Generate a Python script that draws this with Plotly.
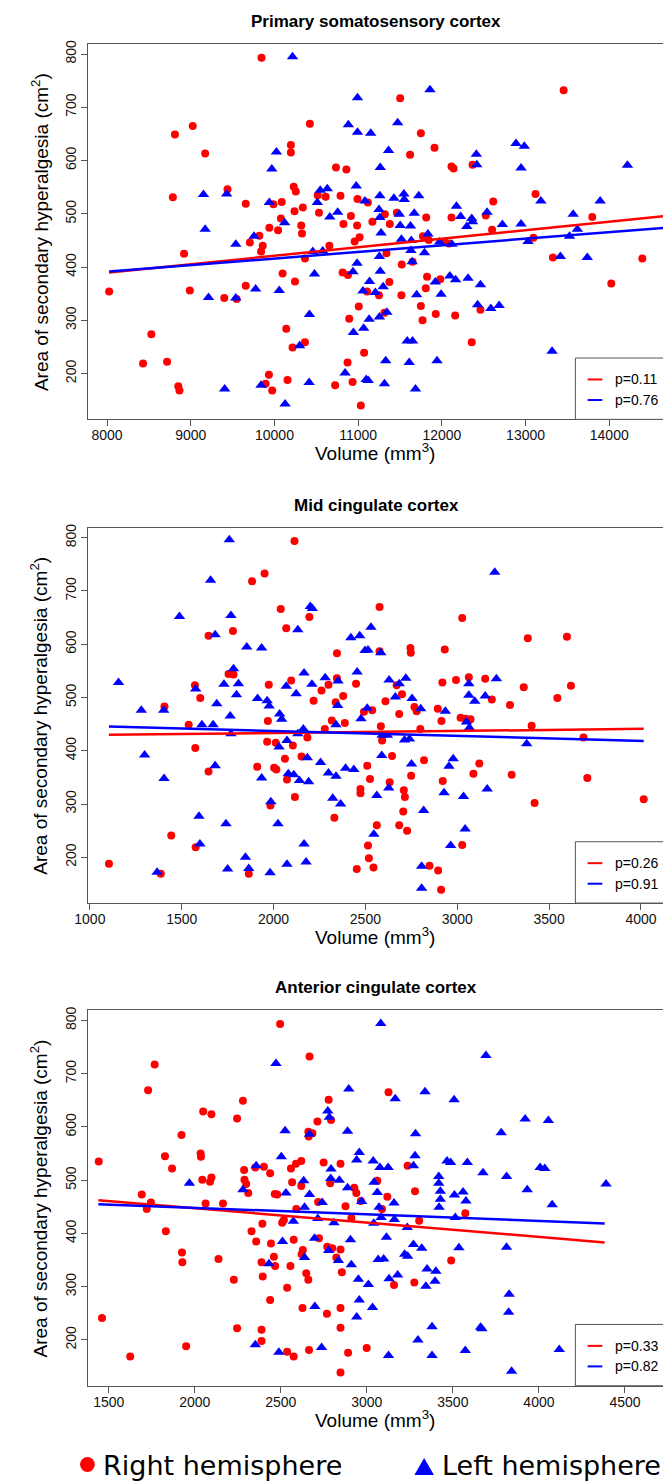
import plotly.graph_objects as go

# ---------------- data ----------------
titles = ["Primary somatosensory cortex", "Mid cingulate cortex", "Anterior cingulate cortex"]
p_right = ["p=0.11", "p=0.26", "p=0.33"]
p_left = ["p=0.76", "p=0.91", "p=0.82"]
y_ticks = [200, 300, 400, 500, 600, 700, 800]
x_ticks_1 = [8000, 9000, 10000, 11000, 12000, 13000, 14000]
x_ticks_2 = [1000, 1500, 2000, 2500, 3000, 3500, 4000]
x_ticks_3 = [1500, 2000, 2500, 3000, 3500, 4000, 4500]
x_range_1 = [7777, 14642]
x_range_2 = [992, 4120]
x_range_3 = [1382, 4721]
y_range = [114, 819]

# Panel 1: primary somatosensory cortex
s1_right = [(9845,793),(8811,649),(9024,665),(9172,613),(10423,669),(10196,629),(10196,615),(11502,717),(11749,651),(11912,624),(11620,611),(13455,732),
 (10735,587),(10859,583),(12115,589),(12140,585),(12367,592),(9439,546),(8786,531),(9657,519),(10230,551),(10255,542),(9988,518),(10087,522),(10517,535),(10532,502),(10611,532),(10789,534),(10992,528),(11116,521),(10339,512),(10240,505),(10913,496),(10077,491),(9939,474),(10043,469),(10987,478),(10824,481),(11170,485),(11319,499),(11378,481),(11462,502),(11813,493),(12115,493),(12525,497),(12614,523),(13119,537),(12600,470),(13797,494),(9820,459),(9706,446),(9860,440),(9840,429),(10320,478),(10329,463),(11017,456),(10958,448),(11774,458),(11843,451),(12031,447),(12085,444),(10656,440),(8920,425),(10364,416),(11338,426),(13327,418),(14395,416),(13094,455),(8025,354),(8989,356),(9400,342),(9548,340),(9657,365),(10097,388),(10245,373),(10814,390),(10878,385),(11373,372),(11517,347),(11521,405),(11650,410),(11106,354),(11249,347),(11314,314),(11007,326),(10893,303),(11749,327),(11769,300),(11823,382),(11808,360),(11981,377),(11927,312),(12159,309),(12461,320),(14024,369),
 (8529,274),(10141,284),(10364,259),(10216,249),(12357,259),(8430,219),(8717,222),(10873,221),(11071,239),(9934,198),(9894,181),(10156,188),(9973,168),(8851,176),(8865,168),(10725,178),(10933,184),(11032,140)]
s1_left = [(10216,795),(10992,718),(11858,733),(10883,667),(10992,653),(11150,651),(11472,671),(11363,619),(10023,616),(12412,612),(12886,632),(12985,627),
 (14217,591),(9968,584),(11264,587),(12417,592),(12946,586),(9152,536),(9429,537),(9172,471),(9538,443),(9756,458),(9939,521),(10122,483),(10547,544),(10631,547),(10512,521),(10661,494),(10755,503),(10977,552),(11081,524),(11259,534),(11249,508),(11259,493),(11274,464),(11427,529),(11546,537),(11551,527),(11724,534),(11492,499),(11502,478),(11625,477),(11670,501),(11517,452),(11635,450),(11833,462),(11630,431),(11645,410),(11793,427),(11972,447),(12120,443),(12174,514),(12224,495),(12357,491),(12298,476),(12367,485),(12540,503),(12723,480),(12946,481),(13030,448),(13183,524),(13569,499),(13619,471),(13525,458),(13891,524),(13416,420),(13737,418),(10458,429),(10577,430),(10478,387),(10987,407),(10938,391),(11254,420),(11264,392),(11136,373),(11057,355),(11205,352),(11299,363),(9212,343),(9538,342),(9775,359),(10057,356),(10418,311),(11699,348),(11922,372),(11991,349),(12095,383),(12164,376),(12313,379),(12461,367),(12427,329),(12585,322),(12684,328),(11343,315),(11131,302),(11254,306),
 (10943,277),(11066,285),(10300,252),(11586,261),(11650,261),(13317,242),(11329,224),(11610,221),(11942,224),(10844,201),(11096,189),(11120,187),(11314,181),(10414,183),(9840,178),(9405,171),(10127,143),(11685,171)]

# Panel 2: mid cingulate cortex
s2_right = [(2114,794),(1951,733),(1883,718),(2039,666),(2069,630),(2195,651),(2577,670),(3027,649),(3384,611),(3597,614),(1646,616),(1779,625),(2345,583),(2577,587),(2745,593),(2747,584),(2932,590),
 (1406,483),(1572,523),(1601,499),(1538,449),(1574,405),(1646,361),(1755,544),(1782,543),(1974,524),(1969,456),(2096,532),(2218,494),(2261,513),(2299,524),(2345,536),(2338,491),(2379,503),(2388,452),(2317,457),(2279,441),(2449,526),(2492,473),(2537,476),(2584,446),(2591,419),(2670,523),(2609,493),(2699,506),(2684,469),(2767,482),(2779,474),(2799,441),(2919,528),(2894,479),(2914,456),(2993,533),(3018,462),(3063,538),(3045,460),(3072,459),(3152,535),(3188,496),(3287,486),(3362,519),(3545,499),(3619,522),(3405,447),(3687,425),(1965,417),(2012,415),(2105,410),(2184,425),(2152,389),(2062,385),(2003,368),(2015,365),(1911,370),(2073,346),(2116,313),(1983,297),(2510,372),(2525,347),(2473,328),(2473,320),(2645,390),(2632,341),(2709,326),(2715,313),(2706,286),(2749,353),(2819,382),(2921,343),(3088,357),(3120,376),(3296,355),(3421,302),(3708,349),(4015,309),(2331,274),
 (1104,188),(1386,169),(1443,241),(1576,219),(1865,169),(2453,178),(2514,222),(2519,198),(2544,181),(2562,260),(2684,260),(2727,250),(2849,184),(2896,175),(2912,139),(3027,223)]
s2_left = [(1759,796),(1657,720),(1488,652),(1768,654),(1682,618),(1854,595),(1935,593),(2132,627),(2200,671),(2211,667),(2421,612),(2469,616),(2530,632),(2498,588),(2514,589),(2584,584),(3204,735),
 (1156,528),(1280,476),(1298,392),(1402,476),(1404,348),(1576,516),(1610,449),(1671,449),(1691,488),(1730,525),(1764,465),(1768,432),(1782,554),(1798,505),(1809,526),(1682,372),(1913,498),(1935,349),(1965,494),(1976,484),(1985,304),(2033,469),(2044,459),(2030,407),(2069,521),(2073,419),(2123,507),(2132,432),(2166,546),(2162,441),(2184,387),(2209,525),(2256,378),(2281,537),(2299,358),(2340,352),(2322,311),(2365,300),(2351,531),(2349,485),(2340,449),(2392,367),(2437,365),(2455,548),(2476,460),(2510,480),(2562,316),(2589,391),(2591,429),(2620,429),(2627,330),(2629,533),(2663,501),(2684,526),(2720,536),(2713,420),(2740,422),(2751,375),(2754,498),(2801,479),(2817,288),(2928,321),(2935,474),(2955,371),(2978,385),(3034,314),(3063,526),(3063,504),(3050,454),(3066,443),(3095,493),(3152,503),(3163,328),(3213,535),(3378,413),(2110,355),(2141,344),(2191,342),(2080,357),(1594,277),
 (1366,172),(1599,225),(1741,263),(1750,178),(1847,200),(1865,179),(1981,171),(2024,263),(2073,187),(2166,225),(2177,191),(2546,243),(2806,183),(2806,142),(2964,222),(3043,253)]

# Panel 3: anterior cingulate cortex
s3_right = [(2496,793),(1767,717),(1729,669),(2667,732),(2280,649),(2049,629),(2097,624),(2246,616),(1923,585),(2778,651),(2713,610),(2792,613),(3126,665),(2660,591),(2684,588),(2662,582),
 (1442,535),(1692,473),(1721,446),(1745,458),(1827,545),(1868,522),(1832,404),(1926,364),(1928,346),(2034,550),(2036,544),(2044,501),(2063,456),(2089,497),(2097,505),(2138,352),(2164,456),(2227,313),(2287,519),(2289,501),(2299,493),(2311,476),(2330,404),(2357,385),(2352,524),(2402,525),(2438,513),(2388,346),(2395,319),(2393,418),(2443,381),(2465,474),(2479,473),(2460,356),(2467,339),(2438,275),(2508,420),(2518,425),(2537,298),(2559,522),(2588,531),(2619,536),(2566,496),(2619,489),(2590,446),(2575,388),(2556,339),(2628,369),(2621,361),(2648,325),(2660,313),(2717,459),(2722,391),(2749,533),(2787,494),(2770,375),(2799,372),(2847,531),(2847,370),(2855,327),(2823,355),(2876,451),(2910,429),(2927,486),(2939,476),(2965,461),(3061,499),(3088,446),(3119,469),(3158,303),(3237,527),(3276,308),(3280,479),(3304,424),(3490,349),(3572,438),
 (1461,241),(1625,169),(1950,188),(2246,222),(2388,219),(2388,198),(2537,178),(2575,169),(2626,260),(2768,249),(2847,260),(2847,223),(2891,176),(2999,185),(2664,181),(2847,139)]
s3_left = [(3081,794),(2472,719),(3692,734),(2895,671),(3165,653),(3338,666),(3507,651),(2773,630),(2782,618),(2525,593),(2888,592),(3283,587),(3781,589),(3920,615),(4055,612),(2667,586),
 (1969,494),(2280,482),(2357,527),(2431,343),(2503,544),(2510,385),(2530,476),(2573,423),(2633,499),(2638,449),(2667,473),(2696,391),(2638,355),(2715,428),(2741,458),(2792,521),(2790,503),(2809,420),(2840,500),(2835,349),(2778,368),(2888,486),(2905,388),(2910,341),(2951,314),(2956,552),(2941,538),(2970,460),(3009,304),(3037,536),(3042,496),(3040,419),(3061,477),(3071,449),(3076,524),(3066,351),(3098,352),(3083,430),(3114,393),(3124,524),(3158,457),(3160,426),(3129,315),(3179,322),(3235,411),(3220,361),(3237,357),(3271,379),(3280,546),(3271,527),(3319,372),(3350,333),(3401,329),(3396,310),(3343,301),(3418,507),(3418,494),(3427,479),(3427,464),(3420,449),(3466,536),(3487,533),(3509,472),(3514,430),(3535,373),(3559,478),(3576,461),(3584,533),(3675,514),(3812,507),(3812,374),(3827,286),(3932,482),(4007,524),(4034,522),(4077,454),(4390,493),
 (2352,191),(2489,177),(2698,263),(2737,186),(2941,243),(2956,275),(3033,261),(3126,171),(3297,200),(3379,225),(3379,171),(3572,180),(3661,224),(3668,221),(3824,252),(3841,141),(4118,182)]

# fitted regression lines (x endpoints, y endpoints)
fit_right = [([8025, 14800], [389.6, 498.0]), ([1104, 4015], [429.8, 441.1]), ([1440, 4382], [462.5, 383.1])]
fit_left = [([8025, 14800], [391.5, 475.5]), ([1104, 4015], [445.5, 418.5]), ([1440, 4382], [455.0, 418.7])]

right_pts = [s1_right, s2_right, s3_right]
left_pts = [s1_left, s2_left, s3_left]
x_ticks = [x_ticks_1, x_ticks_2, x_ticks_3]
x_ranges = [x_range_1, x_range_2, x_range_3]

# ---------------- layout ----------------
W, H = 663, 1481
RED, BLUE = "#FF0000", "#0000FF"
FRAME = "#555555"
FONT = "Liberation Sans, Arial, Helvetica, sans-serif"
LEFT_PX = 76
TOPS = [40, 525, 1009]
PLOT_H = 376.5


def px(x):
    return x / W


def py(y):
    return 1 - y / H


fig = go.Figure()
annotations = []
shapes = []

for i in range(3):
    n = i + 1
    xa = "x" if n == 1 else f"x{n}"
    ya = "y" if n == 1 else f"y{n}"
    top = TOPS[i]
    bottom = top + PLOT_H

    rx = [p[0] for p in right_pts[i]]
    ry = [p[1] for p in right_pts[i]]
    lx = [p[0] for p in left_pts[i]]
    ly = [p[1] for p in left_pts[i]]

    fig.add_trace(go.Scatter(x=rx, y=ry, mode="markers", xaxis=xa, yaxis=ya, showlegend=False,
                             marker=dict(symbol="circle", size=8, color=RED, line=dict(width=0))))
    fig.add_trace(go.Scatter(x=lx, y=ly, mode="markers", xaxis=xa, yaxis=ya, showlegend=False,
                             marker=dict(symbol="triangle-up", size=10, color=BLUE, line=dict(width=0))))
    fig.add_trace(go.Scatter(x=fit_right[i][0], y=fit_right[i][1], mode="lines", xaxis=xa, yaxis=ya,
                             showlegend=False, line=dict(color=RED, width=2.5)))
    fig.add_trace(go.Scatter(x=fit_left[i][0], y=fit_left[i][1], mode="lines", xaxis=xa, yaxis=ya,
                             showlegend=False, line=dict(color=BLUE, width=2.5)))

    axis_common = dict(showgrid=False, zeroline=False, showline=True, linecolor=FRAME, linewidth=1,
                       ticks="outside", ticklen=6, tickcolor=FRAME, tickwidth=1,
                       tickfont=dict(family=FONT, size=14, color="#111"))
    fig.update_layout(**{
        ("xaxis" if n == 1 else f"xaxis{n}"): dict(
            axis_common, domain=[px(LEFT_PX), 1.0], range=x_ranges[i], tickvals=x_ticks[i],
            ticktext=[str(v) for v in x_ticks[i]], mirror=True, anchor=ya, ticklabelstandoff=-3),
        ("yaxis" if n == 1 else f"yaxis{n}"): dict(
            axis_common, domain=[py(bottom), py(top)], range=y_range, tickvals=y_ticks,
            ticktext=[str(v) for v in y_ticks], tickangle=-90, anchor=xa),
    })

    # titles
    annotations.append(dict(text=f"<b>{titles[i]}</b>", x=px(370), y=py(top - 22.5), xref="paper", yref="paper",
                            showarrow=False, xanchor="center", yanchor="middle",
                            font=dict(family=FONT, size=17, color="black")))
    annotations.append(dict(text="Volume (mm<sup>3</sup>)", x=px(369), y=py(bottom + 33), xref="paper", yref="paper",
                            showarrow=False, xanchor="center", yanchor="middle",
                            font=dict(family=FONT, size=19, color="black")))
    annotations.append(dict(text="Area of secondary hyperalgesia (cm<sup>2</sup>)", x=px(26), y=py((top + bottom) / 2),
                            xref="paper", yref="paper", showarrow=False, textangle=-90,
                            xanchor="center", yanchor="middle",
                            font=dict(family=FONT, size=19, color="black")))

    # p-value legend box
    lg_top = bottom - 61.5
    shapes.append(dict(type="rect", xref="paper", yref="paper", x0=px(573.5), x1=px(700), y0=py(bottom), y1=py(lg_top),
                       line=dict(color=FRAME, width=1), fillcolor="white", layer="above"))
    for k, (col, lab) in enumerate([(RED, p_right[i]), (BLUE, p_left[i])]):
        yy = lg_top + 21.5 + k * 20.6
        shapes.append(dict(type="line", xref="paper", yref="paper", x0=px(586), x1=px(601), y0=py(yy), y1=py(yy),
                           line=dict(color=col, width=2), layer="above"))
        annotations.append(dict(text=lab, x=px(612), y=py(yy), xref="paper", yref="paper", showarrow=False,
                                xanchor="left", yanchor="middle", font=dict(family=FONT, size=14, color="black")))

# bottom key
shapes.append(dict(type="circle", xref="paper", yref="paper", x0=px(67.5), x1=px(82.5), y0=py(1472), y1=py(1457),
                   fillcolor=RED, line=dict(width=0)))
tri = f"M {px(409)} {py(1475)} L {px(429)} {py(1475)} L {px(419)} {py(1458)} Z"
shapes.append(dict(type="path", xref="paper", yref="paper", path=tri, fillcolor=BLUE, line=dict(width=0)))
annotations.append(dict(text="Right hemisphere", x=px(89), y=py(1465), xref="paper", yref="paper", showarrow=False,
                        xanchor="left", yanchor="middle", font=dict(family="DejaVu Sans, sans-serif", size=27, color="black")))
annotations.append(dict(text="Left hemisphere", x=px(435), y=py(1465), xref="paper", yref="paper", showarrow=False,
                        xanchor="left", yanchor="middle", font=dict(family="DejaVu Sans, sans-serif", size=27, color="black")))

fig.update_layout(width=W, height=H, margin=dict(l=0, r=0, t=0, b=0), paper_bgcolor="white", plot_bgcolor="white",
                  showlegend=False, annotations=annotations, shapes=shapes)

fig.write_html("out.html", config={"displayModeBar": False},
               post_script="document.body.style.margin='0px';document.body.style.padding='0px';"
                           "document.body.style.overflow='hidden';document.documentElement.style.overflow='hidden';")
